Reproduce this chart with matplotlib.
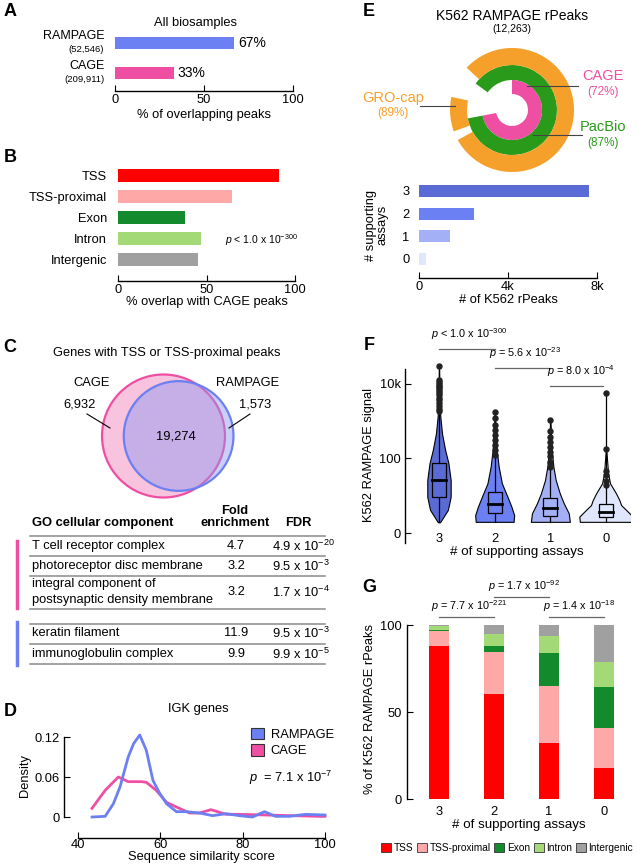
import numpy as np
import matplotlib
matplotlib.use('Agg')
import matplotlib.pyplot as plt
from matplotlib.patches import Circle, Wedge, Patch, Rectangle
from matplotlib.lines import Line2D

plt.rcParams.update({
    'font.family': ['Liberation Sans', 'DejaVu Sans'],
    'font.size': 9.3,
    'mathtext.fontset': 'custom',
    'mathtext.rm': 'Liberation Sans',
    'mathtext.it': 'Liberation Sans:italic',
    'axes.linewidth': 1.0,
    'xtick.direction': 'in',
    'ytick.direction': 'in',
    'xtick.major.size': 4,
    'ytick.major.size': 4,
})

# ---- data ----
# A
a_labels = ['RAMPAGE', 'CAGE']
a_counts = ['(52,546)', '(209,911)']
a_pct = [67, 33]
# B
b_cats = ['TSS', 'TSS-proximal', 'Exon', 'Intron', 'Intergenic']
b_vals = [91, 64.5, 38, 47, 45]
region_colors = ['#ff0000', '#ffa8a8', '#138a2c', '#a3d977', '#a0a0a0']
# C
venn_cage_only = 6932
venn_both = 19274
venn_ramp_only = 1573
go_terms = ['T cell receptor complex', 'photoreceptor disc membrane',
            'integral component of\npostsynaptic density membrane',
            'keratin filament', 'immunoglobulin complex']
go_fold = ['4.7', '3.2', '3.2', '11.9', '9.9']
go_fdr_mant = ['4.9', '9.5', '1.7', '9.5', '9.9']
go_fdr_exp = [-20, -3, -4, -3, -5]
# D
d_ramp_x = [43.4, 46.6, 48.6, 50.2, 52.2, 53.5, 55.0, 56.6, 58.2, 59.8, 61.5, 63.9,
            66.3, 69.5, 72.7, 76.0, 79.2, 82.4, 85.3, 88.0, 91.3, 95.3, 100]
d_ramp_y = [0.0, 0.001, 0.02, 0.045, 0.09, 0.110, 0.123, 0.100, 0.055, 0.036, 0.020, 0.008,
            0.008, 0.006, 0.002, 0.005, 0.002, 0.0, 0.008, 0.001, 0.001, 0.004, 0.003]
d_cage_x = [43.4, 46.6, 49.8, 52.2, 55.5, 56.6, 59.0, 61.5, 63.9, 67.1, 69.5, 72.3,
            76.0, 79.2, 85.7, 92.0, 98.5, 100]
d_cage_y = [0.013, 0.040, 0.060, 0.053, 0.053, 0.052, 0.040, 0.022, 0.015, 0.006, 0.006, 0.011,
            0.004, 0.004, 0.003, 0.002, 0.001, 0.001]
# E
e_names = ['CAGE', 'PacBio', 'GRO-cap']
e_pct = [72, 87, 89]
gro_left_pct = 9
support_levels = ['3', '2', '1', '0']
support_counts = [7650, 2450, 1400, 300]
support_colors = ['#5a6bd6', '#6b80f2', '#a4b0f5', '#e0e6fb']
# F  (log10(signal + 1) scale)
viol_y = [
    [0.29, 0.62, 0.97, 1.42, 1.87, 2.23, 2.67, 3.12, 3.57, 4.0, 4.48],
    [0.30, 0.48, 0.71, 0.97, 1.33, 1.78, 2.23, 2.67, 3.25],
    [0.30, 0.53, 0.80, 1.06, 1.42, 1.78, 2.23, 3.03],
    [0.30, 0.44, 0.62, 0.75, 0.88, 1.06, 1.33, 1.60, 1.96, 2.31],
]
viol_w = [
    [0.02, 0.16, 0.21, 0.21, 0.17, 0.11, 0.054, 0.024, 0.012, 0.006, 0.0],
    [0.34, 0.35, 0.30, 0.23, 0.13, 0.072, 0.036, 0.018, 0.0],
    [0.35, 0.33, 0.24, 0.17, 0.096, 0.054, 0.024, 0.0],
    [0.47, 0.48, 0.36, 0.27, 0.24, 0.18, 0.072, 0.036, 0.018, 0.0],
]
box_q1 = [0.96, 0.53, 0.45, 0.43]
box_med = [1.41, 0.77, 0.67, 0.57]
box_q3 = [1.87, 1.09, 0.93, 0.77]
whisk_lo = [0.29, 0.30, 0.30, 0.30]
outliers = [
    [4.48, 4.10, 4.05, 4.0, 3.95, 3.9, 3.85, 3.8, 3.75, 3.7, 3.62, 3.55, 3.48, 3.4, 3.33, 3.27],
    [3.25, 3.07, 2.90, 2.76, 2.63, 2.49, 2.36, 2.23, 2.09],
    [3.03, 2.72, 2.58, 2.45, 2.31, 2.18, 2.05, 1.91, 1.78],
    [3.75, 2.24, 1.67, 1.55, 1.40, 1.29],
]
f_pvals = ['$p$ < 1.0 x 10$^{-300}$', '$p$ = 5.6 x 10$^{-23}$', '$p$ = 8.0 x 10$^{-4}$']
# G
g_tss = [88.1, 60.2, 32.1, 17.8]
g_prox = [8.5, 24.5, 32.9, 23.3]
g_exon = [0.7, 3.3, 19.1, 23.0]
g_intron = [2.1, 6.8, 9.6, 14.9]
g_inter = [0.6, 5.2, 6.3, 21.0]
g_pvals = ['$p$ = 7.7 x 10$^{-221}$', '$p$ = 1.7 x 10$^{-92}$', '$p$ = 1.4 x 10$^{-18}$']

PINK = '#ee4fa3'
BLUE = '#6b80f2'
GREEN = '#2a9a1a'
ORANGE = '#f5a02a'

W, H = 644, 864
fig = plt.figure(figsize=(W / 100, H / 100), dpi=100)


def fy(y):
    return 1 - y / H


def add_ax(x0, y0, x1, y1):
    return fig.add_axes([x0 / W, 1 - y1 / H, (x1 - x0) / W, (y1 - y0) / H])


def ftext(x, y, s, **kw):
    kw.setdefault('ha', 'center')
    kw.setdefault('va', 'center')
    fig.text(x / W, fy(y), s, **kw)


def fline(xs, ys, **kw):
    fig.add_artist(Line2D([x / W for x in xs], [fy(y) for y in ys], **kw))


def only_bottom(ax):
    for s in ['top', 'right', 'left']:
        ax.spines[s].set_visible(False)
    ax.tick_params(axis='y', length=0)


# panel letters
for lab, x, y in [('A', 10, 12), ('B', 10, 158), ('C', 10, 348), ('D', 10, 712),
                  ('E', 369, 12), ('F', 369, 345), ('G', 369, 588)]:
    ftext(x, y, lab, fontsize=13, fontweight='bold')

# ---- A ----
axA = add_ax(115, 28, 293, 91)
ypos = [1, 0]
axA.barh(ypos, a_pct, height=0.43, color=[BLUE, PINK])
axA.set_xlim(0, 100)
axA.set_ylim(-0.6, 1.5)
axA.set_xticks([0, 50, 100])
axA.set_yticks([])
only_bottom(axA)
axA.tick_params(axis='x', pad=2)
for yp, v, lab, cnt in zip(ypos, a_pct, a_labels, a_counts):
    axA.text(v + 2, yp, f'{v}%', va='center', ha='left', fontsize=10)
    axA.text(-0.06, yp + 0.22, lab, transform=axA.get_yaxis_transform(), ha='right', va='center', fontsize=9)
    axA.text(-0.06, yp - 0.22, cnt, transform=axA.get_yaxis_transform(), ha='right', va='center', fontsize=6.8)
axA.set_xlabel('% of overlapping peaks', labelpad=2)
ftext(195, 23, 'All biosamples')

# ---- B ----
axB = add_ax(118, 165, 295, 281)
bpos = np.arange(len(b_cats))[::-1]
axB.barh(bpos, b_vals, height=0.62, color=region_colors)
axB.set_xlim(0, 100)
axB.set_ylim(-1.0, 4.52)
axB.set_xticks([0, 50, 100])
axB.set_yticks(bpos, b_cats)
only_bottom(axB)
axB.tick_params(axis='y', pad=8)
axB.tick_params(axis='x', pad=2)
axB.set_xlabel('% overlap with CAGE peaks', labelpad=0)
ftext(225, 240, '$p$ < 1.0 x 10$^{-300}$', ha='left', fontsize=7.5)

# ---- C venn ----
ftext(167, 353, 'Genes with TSS or TSS-proximal peaks')
axC = add_ax(60, 365, 300, 505)
axC.set_xlim(60, 300)
axC.set_ylim(505, 365)
axC.axis('off')
n_cage = venn_cage_only + venn_both
n_ramp = venn_ramp_only + venn_both
k = 61.5 / np.sqrt(n_cage)
r1, r2 = k * np.sqrt(n_cage), k * np.sqrt(n_ramp)
target = np.pi * k ** 2 * venn_both


def lens_area(d):
    a1 = r1 ** 2 * np.arccos((d * d + r1 * r1 - r2 * r2) / (2 * d * r1))
    a2 = r2 ** 2 * np.arccos((d * d + r2 * r2 - r1 * r1) / (2 * d * r2))
    a3 = 0.5 * np.sqrt((-d + r1 + r2) * (d + r1 - r2) * (d - r1 + r2) * (d + r1 + r2))
    return a1 + a2 - a3


lo, hi = r1 - r2 + 1e-6, r1 + r2 - 1e-6
for _ in range(60):
    mid = (lo + hi) / 2
    if lens_area(mid) > target:
        lo = mid
    else:
        hi = mid
dist = (lo + hi) / 2
cx1, cy = 163.5, 436
cx2 = cx1 + dist
axC.add_patch(Circle((cx1, cy), r1, facecolor='#f7c3de', edgecolor=PINK, lw=1.6))
axC.add_patch(Circle((cx2, cy), r2, facecolor='#8c96f0', alpha=0.45, edgecolor='none'))
axC.add_patch(Circle((cx2, cy), r2, facecolor='none', edgecolor=BLUE, lw=1.6))
axC.text(92, 383, 'CAGE', ha='center', va='center')
axC.text(80, 405, f'{venn_cage_only:,}', ha='center', va='center')
axC.plot([87, 110], [414, 428], color='k', lw=0.8)
axC.text(248, 383, 'RAMPAGE', ha='center', va='center')
axC.text(255, 405, f'{venn_ramp_only:,}', ha='center', va='center')
axC.plot([250, 229], [414, 428], color='k', lw=0.8)
axC.text(cx2 - 3, 437, f'{venn_both:,}', ha='center', va='center')

# ---- C table ----
ftext(32, 523, 'GO cellular component', ha='left', fontweight='bold')
ftext(235, 511, 'Fold', fontweight='bold')
ftext(235, 523, 'enrichment', fontweight='bold')
ftext(298, 523, 'FDR', fontweight='bold')
row_y = [546, 566, 592, 633, 654]
for term, fold, m, e, y in zip(go_terms, go_fold, go_fdr_mant, go_fdr_exp, row_y):
    ftext(32, y, term, ha='left', linespacing=1.4)
    ftext(236, y, fold)
    ftext(272, y, f'{m} x 10$^{{{e}}}$', ha='left')
for y in [536, 556, 576, 609, 624, 644, 664]:
    fline([30, 325], [y, y], color='#8a8a8a', lw=1.1)
fline([17, 17], [541, 608], color=PINK, lw=2.5)
fline([17, 17], [622, 665], color=BLUE, lw=2.5)

# ---- D ----
ftext(198, 709, 'IGK genes')
axD = add_ax(78, 734, 325, 817)
axD.plot(d_cage_x, d_cage_y, color=PINK, lw=2, clip_on=False)
axD.plot(d_ramp_x, d_ramp_y, color=BLUE, lw=2, clip_on=False)
axD.set_xlim(40, 100)
axD.set_ylim(0, 0.1245)
for s in ['top', 'right']:
    axD.spines[s].set_visible(False)
axD.spines['left'].set_position(('outward', 10))
axD.spines['bottom'].set_position(('outward', 15))
axD.spines['left'].set_bounds(0, 0.12)
axD.set_xticks([40, 60, 80, 100])
axD.set_yticks([0, 0.06, 0.12], ['0', '0.06', '0.12'])
axD.tick_params(axis='x', pad=1)
axD.tick_params(axis='y', pad=3)
axD.set_xlabel('Sequence similarity score', labelpad=0)
axD.set_ylabel('Density', labelpad=3)
axD.legend(handles=[Patch(facecolor=BLUE, edgecolor='#333', lw=0.8, label='RAMPAGE'),
                    Patch(facecolor=PINK, edgecolor='#333', lw=0.8, label='CAGE')],
           loc='upper left', bbox_to_anchor=(0.68, 1.14), frameon=False, fontsize=9.3,
           handlelength=1.0, handleheight=1.0, handletextpad=0.5, labelspacing=0.25,
           borderaxespad=0)
ftext(249, 778, '$p$  = 7.1 x 10$^{-7}$', ha='left')

# ---- E donut ----
ftext(512, 16, 'K562 RAMPAGE rPeaks', fontsize=10)
ftext(512, 29, '(12,263)', fontsize=7.5)
axE = add_ax(440, 40, 590, 180)
axE.set_xlim(440, 590)
axE.set_ylim(H - 180, H - 40)
axE.axis('off')
c = (512, H - 110)
start = 90 - 3.6 * e_pct[0]
axE.add_patch(Wedge(c, 30, start, 90, width=14, color=PINK, lw=0))
axE.add_patch(Wedge(c, 45, start, start + 3.6 * e_pct[1], width=15, color=GREEN, lw=0))
gro_main = e_pct[2] - gro_left_pct
axE.add_patch(Wedge(c, 62, 209, 209 + 3.6 * gro_main, width=17, color=ORANGE, lw=0))
axE.add_patch(Wedge(c, 62, 184 - 1.8 * gro_left_pct, 184 + 1.8 * gro_left_pct, width=17, color=ORANGE, lw=0))
fline([527, 578], [86, 86], color='#444', lw=0.8)
fline([533, 582], [135, 135], color='#444', lw=0.8)
fline([420, 455], [106, 106], color='#444', lw=0.8)
ftext(603, 76, e_names[0], color=PINK, fontsize=10.5)
ftext(603, 92, f'({e_pct[0]}%)', color=PINK, fontsize=8.5)
ftext(603, 127, e_names[1], color=GREEN, fontsize=10.5)
ftext(603, 143, f'({e_pct[1]}%)', color=GREEN, fontsize=8.5)
ftext(393, 98, e_names[2], color=ORANGE, fontsize=10.5)
ftext(393, 113, f'({e_pct[2]}%)', color=ORANGE, fontsize=8.5)

# ---- E bars ----
axE2 = add_ax(419, 180, 597, 278)
epos = np.arange(len(support_levels))[::-1]
axE2.barh(epos, support_counts, height=0.53, color=support_colors)
axE2.set_xlim(0, 8000)
axE2.set_ylim(-0.84, 3.48)
axE2.set_xticks([0, 4000, 8000], ['0', '4k', '8k'])
axE2.set_yticks(epos, support_levels)
only_bottom(axE2)
axE2.tick_params(axis='y', pad=7)
axE2.tick_params(axis='x', pad=2)
axE2.set_xlabel('# of K562 rPeaks', labelpad=1)
ftext(377, 225, '# supporting\nassays', rotation=90, linespacing=0.95)

# ---- F violins ----
axF = add_ax(405, 365, 630, 545)
axF.set_xlim(-0.61, 3.43)
axF.set_ylim(-0.32, 4.5)
for i in range(4):
    yv = np.array(viol_y[i])
    wv = np.array(viol_w[i])
    axF.fill_betweenx(yv, i - wv, i + wv, facecolor=support_colors[i], edgecolor='k', lw=0.8, zorder=2)
    top = max(outliers[i])
    axF.plot([i, i], [whisk_lo[i], top], color='k', lw=0.9, zorder=3)
    axF.add_patch(Rectangle((i - 0.125, box_q1[i]), 0.25, box_q3[i] - box_q1[i],
                            facecolor=support_colors[i], edgecolor='k', lw=0.9, zorder=4))
    axF.plot([i - 0.125, i + 0.125], [box_med[i], box_med[i]], color='k', lw=2, zorder=5)
    axF.plot([i] * len(outliers[i]), outliers[i], 'o', color='#222', ms=3.6, zorder=6, clip_on=False)
for s in ['top', 'right', 'bottom']:
    axF.spines[s].set_visible(False)
axF.spines['left'].set_bounds(-0.27, 4.38)
axF.set_yticks([0, 2, 4], ['0', '100', '10k'])
axF.set_xticks(range(4), support_levels)
axF.tick_params(axis='x', length=0, pad=-9)
axF.tick_params(axis='y', pad=3)
axF.set_ylabel('K562 RAMPAGE signal', fontsize=9.3, labelpad=3)
ftext(517, 552, '# of supporting assays', fontsize=9.6)
f_pairs = [(0, 1), (1, 2), (2, 3)]
f_line_y = [4.93, 4.43, 3.94]
for (p0, p1), ly, txt in zip(f_pairs, f_line_y, f_pvals):
    axF.plot([p0, p1 - 0.05 * (p1 == 3)], [ly, ly], color='#666', lw=0.9, clip_on=False)
    axF.text((p0 + p1) / 2 + 0.05, ly + 0.18, txt, ha='center', va='bottom', fontsize=7.8)

# ---- G stacked bars ----
axG = add_ax(407, 620, 630, 799)
gx = np.arange(4)
bottom = np.zeros(4)
for vals, col in zip([g_tss, g_prox, g_exon, g_intron, g_inter], region_colors):
    axG.bar(gx, vals, bottom=bottom, width=0.36, color=col)
    bottom += np.array(vals)
axG.set_xlim(-0.58, 3.47)
axG.set_ylim(0, 102.9)
for s in ['top', 'right', 'bottom']:
    axG.spines[s].set_visible(False)
axG.spines['left'].set_bounds(0, 100)
axG.set_yticks([0, 50, 100])
axG.set_xticks(gx, support_levels)
axG.tick_params(axis='x', length=0, pad=5)
axG.set_ylabel('% of K562 RAMPAGE rPeaks', fontsize=9.3, labelpad=3)
axG.set_xlabel('# of supporting assays', fontsize=9.6, labelpad=1)
g_line_y = [104.6, 116.1, 104.6]
for (p0, p1), ly, txt in zip(f_pairs, g_line_y, g_pvals):
    axG.plot([p0, p1], [ly, ly], color='#666', lw=0.9, clip_on=False)
    axG.text((p0 + p1) / 2 + 0.05, ly + 2, txt, ha='center', va='bottom', fontsize=7.8)
fig.legend(handles=[Patch(facecolor=col, edgecolor='#333', lw=0.6, label=lab)
                    for col, lab in zip(region_colors, b_cats)],
           loc='center', bbox_to_anchor=(507 / W, fy(848)), ncol=5, frameon=False,
           fontsize=7.3, handlelength=1.0, handleheight=1.0, handletextpad=0.25,
           columnspacing=0.35, borderaxespad=0)

fig.savefig('out.png', dpi=100)
